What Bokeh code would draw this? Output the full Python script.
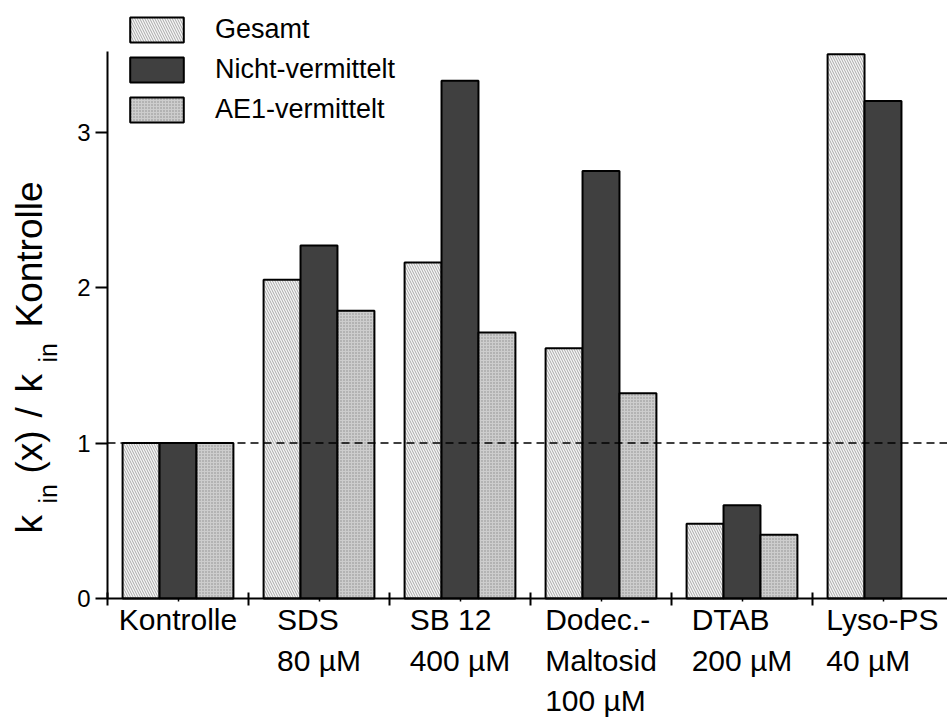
import numpy as np
from bokeh.plotting import figure
from bokeh.models import (FixedTicker, Range1d, Legend, LegendItem, Label,
                          ColumnDataSource)
from bokeh.embed import file_html
from bokeh.resources import INLINE

# ---------------- data ----------------
categories = ["Kontrolle", "SDS\n80 \u00b5M", "SB 12\n400 \u00b5M",
              "Dodec.-\nMaltosid\n100 \u00b5M", "DTAB\n200 \u00b5M", "Lyso-PS\n40 \u00b5M"]
gesamt = [1.00, 2.05, 2.16, 1.61, 0.48, 3.50]
nicht_vermittelt = [1.00, 2.27, 3.33, 2.75, 0.60, 3.20]
ae1_vermittelt = [1.00, 1.85, 1.71, 1.32, 0.41, np.nan]
series_names = ["Gesamt", "Nicht-vermittelt", "AE1-vermittelt"]
y_ticks = [0, 1, 2, 3]
reference_level = 1.0

FONT = "Liberation Sans"
WID, HEI = 947, 718
FL, FB = 107, 598          # page pixel of data origin
SX, SY = 141.0, 155.5      # pixels per unit

p = figure(width=WID, height=HEI, output_backend="svg", toolbar_location=None,
           x_range=Range1d(-FL / SX, (WID - FL) / SX),
           y_range=Range1d(-(HEI - FB) / SY, FB / SY),
           min_border_left=0, min_border_right=0, min_border_top=0,
           min_border_bottom=0)
p.outline_line_color = None
p.xgrid.visible = False
p.ygrid.visible = False
p.background_fill_color = "white"

n = len(categories)
idx = np.arange(n)
bw = 0.262
styles = [
    dict(fill_color="#f6f6f6", hatch_pattern="left_diagonal_line", hatch_color="#a8a8a8",
         hatch_scale=5, hatch_weight=1),
    dict(fill_color="#404040"),
    dict(fill_color="#cdcdcd", hatch_pattern="dot", hatch_color="#8c8c8c",
         hatch_scale=3, hatch_weight=1),
]
renderers = []
for k, vals in enumerate([gesamt, nicht_vermittelt, ae1_vermittelt]):
    xs = idx + 0.5 + (k - 1) * bw
    v = np.array(vals, dtype=float)
    m = ~np.isnan(v)
    src = ColumnDataSource(dict(x=xs[m], top=v[m]))
    r = p.vbar(x="x", top="top", bottom=0, width=bw, source=src,
               line_color="black", line_width=2, **styles[k])
    renderers.append(r)

# dashed reference line from the y axis to the right edge
p.ray(x=[0], y=[reference_level], length=0, angle=0, line_color="black",
      line_width=1.5, line_dash="8 5")

# axes, drawn at the data origin
xa = p.xaxis[0]
xa.fixed_location = 0
xa.bounds = (0, (WID - FL) / SX)
xa.ticker = FixedTicker(ticks=list(range(n + 1)), minor_ticks=list(idx + 0.5))
xa.major_label_overrides = {t: "" for t in range(n + 1)}
xa.axis_line_width = 2
xa.major_tick_line_width = 2
xa.major_tick_in = 6
xa.major_tick_out = 7
xa.minor_tick_in = 0
xa.minor_tick_out = 3
xa.minor_tick_line_width = 1.5

ya = p.yaxis[0]
ya.fixed_location = 0
ya.ticker = FixedTicker(ticks=y_ticks)
ya.bounds = (0, 3.52)
ya.axis_line_width = 2
ya.major_tick_line_width = 2
ya.major_tick_in = 0
ya.major_tick_out = 12
ya.minor_tick_line_color = None
ya.major_label_text_font = FONT
ya.major_label_text_font_size = "24px"
ya.major_label_text_color = "black"
ya.major_label_standoff = 5

# category labels (multi-line, left aligned block centred on group)
W = {' ': 278, '0': 556, '1': 556, '2': 556, '4': 556, '8': 556, 'K': 667, 'o': 556,
     'n': 556, 't': 278, 'r': 333, 'l': 222, 'e': 556, 'S': 667, 'D': 722, 'B': 667,
     'M': 833, '\u00b5': 576, '.': 278, '-': 333, 'a': 556, 's': 500, 'i': 222, 'c': 500,
     'd': 556, 'T': 611, 'A': 667, 'L': 556, 'y': 500, 'P': 667}
fs = 30
for i, c in enumerate(categories):
    lines = c.split("\n")
    wmax = max(sum(W.get(ch, 556) for ch in ln) for ln in lines) * fs / 1000
    for j, ln in enumerate(lines):
        p.add_layout(Label(x=i + 0.5, y=0, x_units="data", y_units="data",
                           x_offset=-wmax / 2, y_offset=-(21 + 40.5 * j), text=ln,
                           text_font=FONT, text_font_size=f"{fs}px", text_align="left",
                           text_baseline="alphabetic", text_color="black"))

# y-axis label with subscripts (screen units, from canvas bottom-left)
pieces = [("k", 533, 29, 37), ("in", 503, 47, 25), ("(x)", 473, 29, 37), ("/", 417, 29, 37),
          ("k", 392, 29, 37), ("in", 362, 47, 25), ("Kontrolle", 327, 29, 37)]
for txt, py, px, f in pieces:
    p.add_layout(Label(x=px, y=HEI - py, x_units="screen", y_units="screen", text=txt,
                       angle=np.pi / 2, text_font=FONT, text_font_size=f"{f}px",
                       text_align="left", text_baseline="alphabetic", text_color="black"))

legend = Legend(items=[LegendItem(label=series_names[k], renderers=[renderers[k]])
                       for k in range(3)],
                location=(123, HEI - 125), glyph_width=67, glyph_height=31, spacing=9,
                label_standoff=25, padding=0, margin=0, border_line_color=None,
                background_fill_alpha=0, label_text_font=FONT, label_text_font_size="27px",
                label_text_color="black")
p.add_layout(legend)

open("out.html", "w").write(file_html(p, INLINE))
